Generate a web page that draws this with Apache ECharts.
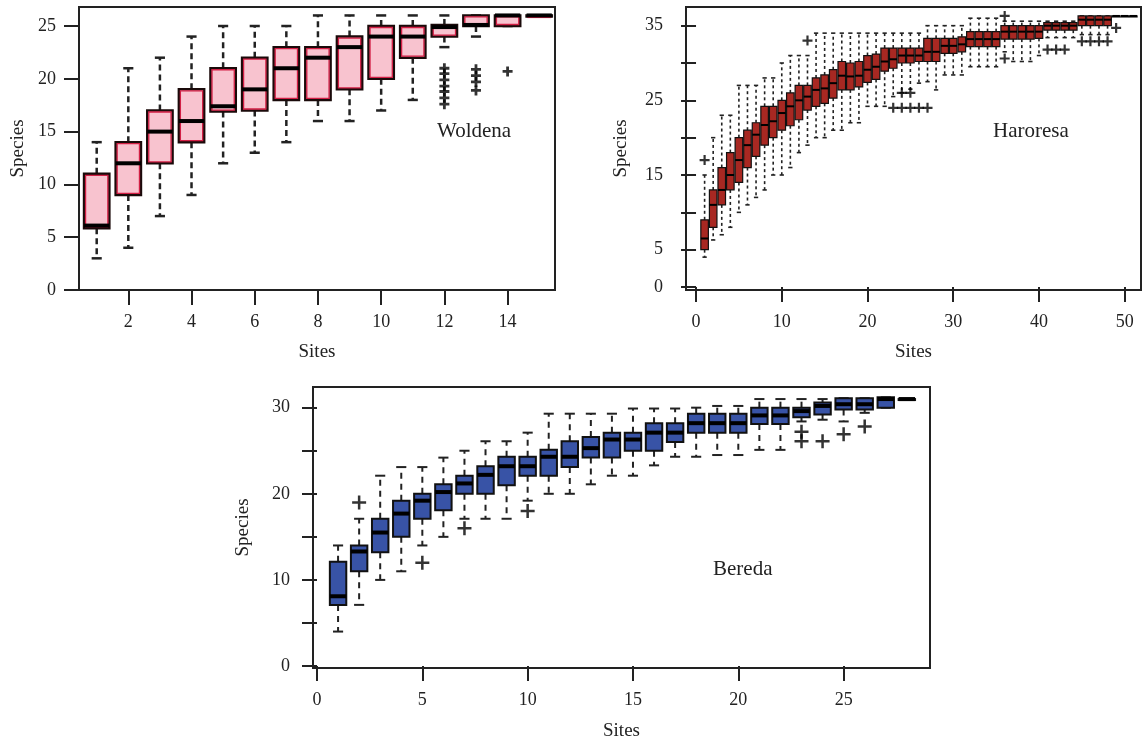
<!DOCTYPE html>
<html>
<head>
<meta charset="utf-8">
<title>Species accumulation by site</title>
<script src="https://cdn.jsdelivr.net/npm/echarts@6/dist/echarts.min.js"></script>
<style>
  html, body { margin: 0; padding: 0; background: #fff; }
  #chart { width: 1143px; height: 741px; }
</style>
</head>
<body>
<div id="chart"></div>
<script>
// each row: [min, Q1, median, Q3, max] for site 1, 2, 3 ...
const woldenaStats = [
  [3, 5.85, 6.1, 11, 14],
  [4, 9, 12, 14, 21],
  [7, 12, 15, 17, 22],
  [9, 14, 16, 19, 24],
  [12, 16.9, 17.4, 21, 25],
  [13, 17, 19, 22, 25],
  [14, 18, 21, 23, 25],
  [16, 18, 22, 23, 26],
  [16, 19, 23, 24, 26],
  [17, 20, 24, 25, 26],
  [18, 22, 24, 25, 26],
  [23, 24, 24.9, 25.1, 26],
  [24, 25, 25.1, 26, 26],
  [25, 25, 26, 26, 26],
  [26, 26, 26, 26, 26]
]
// [site, value]
const woldenaOutliers = [
  [12, 21], [12, 20.5], [12, 19.9], [12, 19.3], [12, 18.8], [12, 18.2], [12, 17.6],
  [13, 20.9], [13, 20.3], [13, 19.7], [13, 18.9],
  [14, 20.7]
]

const haroresaStats = [
  [4, 5, 6.5, 9, 15],
  [6.3, 8, 11, 13, 20],
  [7, 11, 13, 16, 23],
  [8, 13, 15, 18, 23],
  [10, 14, 17, 20, 27],
  [11, 16, 19, 21, 27],
  [12, 17.5, 20.4, 22, 27],
  [13, 19, 21.7, 24.2, 28],
  [15, 20, 22.2, 24.2, 28],
  [15, 21, 23.3, 25, 30],
  [16, 21.6, 24.2, 26, 31],
  [18, 22.4, 25, 27, 31],
  [19, 23.7, 25.5, 27, 31],
  [20, 24.2, 26.4, 28, 34],
  [20, 24.6, 26.6, 28.4, 34],
  [21, 25.3, 27.3, 29.1, 34],
  [21, 26.4, 28.3, 30.2, 34],
  [22, 26.4, 28.2, 30, 34],
  [22, 26.8, 28.3, 30.2, 34],
  [24.2, 27.4, 29.1, 31, 34],
  [24.2, 27.8, 29.5, 31.2, 34],
  [24.2, 28.9, 30.2, 32, 34],
  [25.5, 29.3, 30.5, 32, 34],
  [26, 30, 31, 32, 34],
  [26.5, 30, 31, 32, 34],
  [27.3, 30.2, 31, 32, 34],
  [27.5, 30.2, 31.5, 33.3, 35],
  [26.4, 30.2, 31.5, 33.3, 35],
  [28.4, 31.3, 32.3, 33.3, 35],
  [28.4, 31.3, 32.3, 33.3, 35],
  [28.4, 31.5, 32.5, 33.5, 35],
  [29.5, 32.2, 33.2, 34.2, 36],
  [29.5, 32.2, 33.2, 34.2, 36],
  [29.5, 32.2, 33.2, 34.2, 36],
  [29.5, 32.2, 33.2, 34.2, 36],
  [31.5, 33.2, 34.2, 35, 35.6],
  [30.2, 33.2, 34.2, 35, 35.6],
  [30.2, 33.2, 34.2, 35, 35.6],
  [30.2, 33.2, 34.2, 35, 35.6],
  [31, 33.3, 34.2, 35, 35.6],
  [33.4, 34.4, 35, 35.4, 35.6],
  [33.4, 34.4, 35, 35.4, 35.6],
  [33.4, 34.4, 35, 35.4, 35.6],
  [33.4, 34.4, 35, 35.4, 35.6],
  [33.8, 35, 35.8, 36.3, 36.3],
  [33.8, 35, 35.8, 36.3, 36.3],
  [33.8, 35, 35.8, 36.3, 36.3],
  [33.8, 35, 35.8, 36.3, 36.3],
  [36.3, 36.3, 36.3, 36.3, 36.3],
  [36.3, 36.3, 36.3, 36.3, 36.3],
  [36.3, 36.3, 36.3, 36.3, 36.3]
]
const haroresaOutliers = [
  [1, 17], [13, 33],
  [23, 24], [24, 24], [25, 24], [26, 24], [27, 24], [24, 26], [25, 26],
  [36, 36.3], [36, 30.6],
  [41, 31.8], [42, 31.8], [43, 31.8],
  [45, 32.9], [46, 32.9], [47, 32.9], [48, 32.9],
  [49, 34.7]
]

const beredaStats = [
  [4, 7.1, 8.1, 12.1, 14],
  [7.1, 11, 13.3, 14, 17.1],
  [10, 13.2, 15.5, 17.1, 22.1],
  [11, 15, 17.7, 19.2, 23.1],
  [14, 17.1, 19.2, 20, 23.1],
  [15, 18.1, 20.2, 21.1, 24.2],
  [17.1, 20, 21.2, 22.1, 25],
  [17.1, 20, 22.2, 23.2, 26.1],
  [17.1, 21, 23.2, 24.3, 26.1],
  [19.2, 22.1, 23.2, 24.3, 27.1],
  [20, 22.1, 24.3, 25.1, 29.3],
  [20, 23.1, 24.3, 26.1, 29.3],
  [21.1, 24.2, 25.3, 26.6, 29.3],
  [22.1, 24.2, 26.3, 27.1, 29.3],
  [22.1, 25, 26.3, 27.1, 29.9],
  [23.3, 25, 27.1, 28.2, 29.9],
  [24.3, 26, 27.1, 28.2, 29.9],
  [24.3, 27.1, 28.2, 29.3, 30],
  [24.5, 27.1, 28.2, 29.3, 30.2],
  [24.5, 27.1, 28.2, 29.3, 30.2],
  [25.1, 28.1, 29.1, 30, 31],
  [25.1, 28.1, 29.1, 30, 31],
  [28.4, 28.9, 29.6, 30, 31],
  [28.6, 29.2, 30.2, 30.6, 31],
  [28.4, 29.8, 30.4, 31.1, 31.1],
  [29.4, 29.8, 30.4, 31.1, 31.1],
  [30, 30, 31, 31.2, 31.2],
  [31, 31, 31, 31, 31]
]
const beredaOutliers = [
  [2, 19], [5, 12], [7, 16], [10, 18],
  [23, 27.2], [23, 26.1], [24, 26.1], [25, 26.9], [26, 27.8]
]

const serif = 'Liberation Serif'
const ink = '#222'

// site number goes in front of the five numbers
function withSites (stats) {
  return stats.map((s, i) => [i + 1].concat(s))
}

function boxRenderer (st) {
  return function (params, api) {
    const x = api.value(0)
    const pMin = api.coord([x, api.value(1)])
    const pQ1 = api.coord([x, api.value(2)])
    const pMed = api.coord([x, api.value(3)])
    const pQ3 = api.coord([x, api.value(4)])
    const pMax = api.coord([x, api.value(5)])
    const unit = api.size([1, 0])[0]
    const half = unit * st.boxW / 2
    const cap = unit * st.capW / 2
    const cx = pMed[0]
    const dash = { stroke: ink, lineWidth: st.whiskerW, lineDash: st.dash }
    const solid = { stroke: ink, lineWidth: st.whiskerW }
    const children = []
    if (pMin[1] - pQ1[1] > 1) {
      children.push({ type: 'line', shape: { x1: cx, y1: pQ1[1], x2: cx, y2: pMin[1] }, style: dash })
    }
    if (pQ3[1] - pMax[1] > 1) {
      children.push({ type: 'line', shape: { x1: cx, y1: pQ3[1], x2: cx, y2: pMax[1] }, style: dash })
    }
    children.push({ type: 'line', shape: { x1: cx - cap, y1: pMin[1], x2: cx + cap, y2: pMin[1] }, style: solid })
    children.push({ type: 'line', shape: { x1: cx - cap, y1: pMax[1], x2: cx + cap, y2: pMax[1] }, style: solid })
    const h = Math.max(pQ1[1] - pQ3[1], 1)
    children.push({
      type: 'rect',
      shape: { x: cx - half, y: pQ3[1], width: half * 2, height: h },
      style: { fill: st.fill, stroke: st.outer, lineWidth: st.outerW }
    })
    if (st.inner) {
      children.push({
        type: 'rect',
        shape: { x: cx - half + 1.5, y: pQ3[1] + 1.5, width: half * 2 - 3, height: Math.max(h - 3, 0.5) },
        style: { fill: st.fill, stroke: st.inner, lineWidth: 1.3 }
      })
    }
    children.push({
      type: 'line',
      shape: { x1: cx - half, y1: pMed[1], x2: cx + half, y2: pMed[1] },
      style: { stroke: '#000', lineWidth: st.medianW }
    })
    return { type: 'group', children }
  }
}

function plusSymbol (t) {
  const a = 5 - t / 2
  const b = 5 + t / 2
  return 'path://M0,' + a + 'L10,' + a + 'L10,' + b + 'L0,' + b + 'Z' +
    'M' + a + ',0L' + b + ',0L' + b + ',10L' + a + ',10Z'
}

// ticks stick out 15px, labels sit past them
function xAxisOf (gridIndex, min, max, ticks, nameGap) {
  return {
    type: 'value', gridIndex, min, max,
    axisLine: { show: false },
    splitLine: { show: false },
    axisTick: { show: true, length: 15, customValues: ticks, lineStyle: { color: ink, width: 2 } },
    axisLabel: { customValues: ticks, fontFamily: serif, fontSize: 18, color: ink, margin: 23 },
    name: 'Sites', nameLocation: 'middle', nameGap,
    nameTextStyle: { fontFamily: serif, fontSize: 19, color: ink }
  }
}

function yAxisOf (gridIndex, min, max, ticks, labels, nameGap) {
  return {
    type: 'value', gridIndex, min, max,
    axisLine: { show: false },
    splitLine: { show: false },
    axisTick: { show: true, length: 15, customValues: ticks, lineStyle: { color: ink, width: 2 } },
    axisLabel: { customValues: labels, fontFamily: serif, fontSize: 18, color: ink, margin: 23 },
    name: 'Species', nameLocation: 'middle', nameGap,
    nameTextStyle: { fontFamily: serif, fontSize: 19, color: ink }
  }
}

// outerBoundsMode none: keep grids exactly where placed
const frame = { show: true, borderColor: ink, borderWidth: 2, backgroundColor: '#fff', outerBoundsMode: 'none', containLabel: false }

const chart = echarts.init(document.getElementById('chart'))
chart.setOption({
  animation: false,
  backgroundColor: '#fff',
  grid: [
    Object.assign({ left: 79, top: 7, width: 476, height: 283 }, frame),
    Object.assign({ left: 686, top: 7, width: 455, height: 283 }, frame),
    Object.assign({ left: 313, top: 387, width: 617, height: 281 }, frame)
  ],
  xAxis: [
    xAxisOf(0, 0.44, 15.5, [2, 4, 6, 8, 10, 12, 14], 53),
    xAxisOf(1, -1.17, 51.9, [0, 10, 20, 30, 40, 50], 53),
    xAxisOf(2, -0.19, 29.1, [0, 5, 10, 15, 20, 25], 54)
  ],
  yAxis: [
    yAxisOf(0, 0, 26.8, [0, 5, 10, 15, 20, 25], [0, 5, 10, 15, 20, 25], 51),
    yAxisOf(1, -0.4, 37.5, [0, 5, 10, 15, 20, 25, 30, 35], [0, 5, 15, 25, 35], 55),
    yAxisOf(2, -0.23, 32.4, [0, 5, 10, 15, 20, 25, 30], [0, 10, 20, 30], 60)
  ],
  graphic: [
    { type: 'text', left: 437, top: 121, style: { text: 'Woldena', font: '21px "Liberation Serif"', fill: ink } },
    { type: 'text', left: 993, top: 121, style: { text: 'Haroresa', font: '21px "Liberation Serif"', fill: ink } },
    { type: 'text', left: 713, top: 559, style: { text: 'Bereda', font: '21px "Liberation Serif"', fill: ink } }
  ],
  series: [
    {
      type: 'custom', xAxisIndex: 0, yAxisIndex: 0,
      data: withSites(woldenaStats),
      encode: { x: 0, y: [1, 2, 3, 4, 5] },
      renderItem: boxRenderer({ fill: '#f8c3cf', outer: '#1a0a0a', outerW: 2.5, inner: '#d21f45', boxW: 0.8, capW: 0.32, whiskerW: 2.5, dash: [6, 4], medianW: 4 })
    },
    {
      type: 'scatter', xAxisIndex: 0, yAxisIndex: 0,
      data: woldenaOutliers, symbol: plusSymbol(2.8), symbolSize: 10,
      itemStyle: { color: '#000' }
    },
    {
      type: 'custom', xAxisIndex: 1, yAxisIndex: 1,
      data: withSites(haroresaStats),
      encode: { x: 0, y: [1, 2, 3, 4, 5] },
      renderItem: boxRenderer({ fill: '#a82822', outer: '#111', outerW: 1.2, boxW: 0.88, capW: 0.5, whiskerW: 1.6, dash: [3, 3], medianW: 2 })
    },
    {
      type: 'scatter', xAxisIndex: 1, yAxisIndex: 1,
      data: haroresaOutliers, symbol: plusSymbol(2.2), symbolSize: 10,
      itemStyle: { color: '#000' }
    },
    {
      type: 'custom', xAxisIndex: 2, yAxisIndex: 2,
      data: withSites(beredaStats),
      encode: { x: 0, y: [1, 2, 3, 4, 5] },
      renderItem: boxRenderer({ fill: '#3853a6', outer: '#111', outerW: 2, boxW: 0.78, capW: 0.48, whiskerW: 2, dash: [6, 5], medianW: 4 })
    },
    {
      type: 'scatter', xAxisIndex: 2, yAxisIndex: 2,
      data: beredaOutliers, symbol: plusSymbol(1.8), symbolSize: 14,
      itemStyle: { color: '#000' }
    }
  ]
})
</script>
</body>
</html>
